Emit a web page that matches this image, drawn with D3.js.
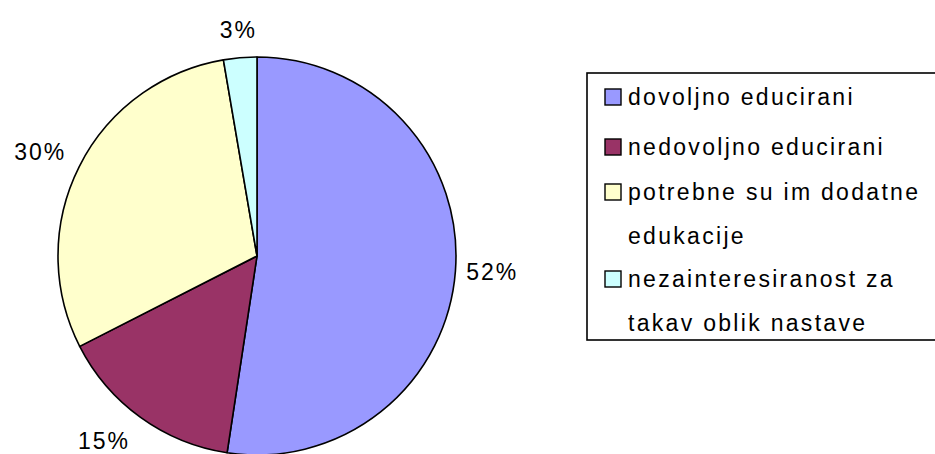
<!DOCTYPE html>
<html>
<head>
<meta charset="utf-8">
<script src="https://cdn.jsdelivr.net/npm/d3@7"></script>
<style>
  body { margin: 0; background: #fff; }
  svg text { font-family: "Liberation Sans", Arial, sans-serif; fill: #000; }
</style>
</head>
<body>
<div id="chart"></div>
<script>
// data
var categories = ["dovoljno educirani", "nedovoljno educirani", "potrebne su im dodatne edukacije", "nezainteresiranost za takav oblik nastave"];
var legendLines = [["dovoljno educirani"], ["nedovoljno educirani"], ["potrebne su im dodatne", "edukacije"], ["nezainteresiranost za", "takav oblik nastave"]];
var values = [52.4, 15.1, 29.8, 2.7];
var labels = ["52%", "15%", "30%", "3%"];
var colors = ["#9999ff", "#993366", "#ffffcc", "#ccffff"];

var width = 935, height = 454;
var cx = 257, cy = 256, radius = 199;

var svg = d3.select("#chart").append("svg")
  .attr("width", width)
  .attr("height", height);

var pie = d3.pie().sort(null).value(function(d) { return d; });
var arc = d3.arc().innerRadius(0).outerRadius(radius);
var arcs = pie(values);

var g = svg.append("g").attr("transform", "translate(" + cx + "," + cy + ")");

g.selectAll("path.slice")
  .data(arcs)
  .enter().append("path")
  .attr("class", "slice")
  .attr("d", arc)
  .attr("fill", function(d, i) { return colors[i]; })
  .attr("stroke", "#000")
  .attr("stroke-width", 1.6)
  .attr("stroke-linejoin", "round");

// percent labels outside the pie, pushed a bit further out near top/bottom
g.selectAll("text.pct")
  .data(arcs)
  .enter().append("text")
  .attr("class", "pct")
  .style("font-size", "23px")
  .style("letter-spacing", "2px")
  .each(function(d, i) {
    var a = (d.startAngle + d.endAngle) / 2;
    var s = Math.sin(a), c = Math.cos(a);
    var r = radius + 10 + 10 * Math.abs(c);
    var x = r * s, y = -r * c;
    var anchor = s > 0.3 ? "start" : (s < -0.3 ? "end" : "middle");
    var base = c > 0.3 ? y : (c < -0.3 ? y + 17 : y + 8);
    d3.select(this)
      .attr("x", x)
      .attr("y", base)
      .attr("text-anchor", anchor)
      .text(labels[i]);
  });

// legend
var legend = svg.append("g").attr("class", "legend");
legend.append("rect")
  .attr("x", 587).attr("y", 73)
  .attr("width", 360).attr("height", 267)
  .attr("fill", "#fff")
  .attr("stroke", "#000")
  .attr("stroke-width", 1.6);

var rowY = [105, 155, 200, 287];
var lineGap = 44;

var items = legend.selectAll("g.item")
  .data(categories)
  .enter().append("g")
  .attr("class", "item")
  .attr("transform", function(d, i) { return "translate(605," + rowY[i] + ")"; });

items.append("rect")
  .attr("x", 0).attr("y", -16)
  .attr("width", 16).attr("height", 16)
  .attr("fill", function(d, i) { return colors[i]; })
  .attr("stroke", "#000")
  .attr("stroke-width", 1.4);

items.each(function(d, i) {
  var t = d3.select(this);
  legendLines[i].forEach(function(line, k) {
    t.append("text")
      .attr("x", 23)
      .attr("y", k * lineGap)
      .style("font-size", "23px")
      .style("letter-spacing", "2.3px")
      .text(line);
  });
});
</script>
</body>
</html>
